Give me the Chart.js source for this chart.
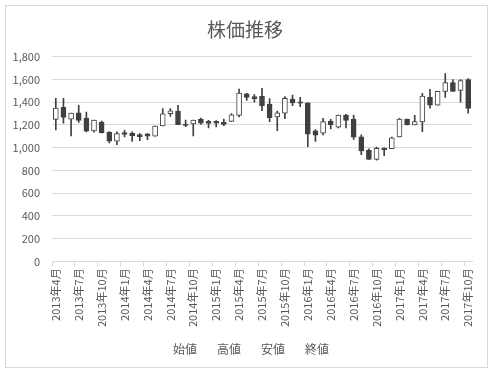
<!DOCTYPE html>
<html>
<head>
<meta charset="utf-8">
<script src="https://cdn.jsdelivr.net/npm/chart.js@4.4.1/dist/chart.umd.min.js"></script>
<style>
  body { margin: 0; background: #fff; }
  #box { position: absolute; left: 5px; top: 5px; width: 481px; height: 361px; border: 1px solid #d9d9d9; }
</style>
</head>
<body>
<div id="box"><canvas id="c" width="481" height="361"></canvas></div>
<script>
// monthly candles, 2013/4 .. 2017/10
var months = [
  '2013年4月','2013年5月','2013年6月','2013年7月','2013年8月','2013年9月','2013年10月','2013年11月','2013年12月',
  '2014年1月','2014年2月','2014年3月','2014年4月','2014年5月','2014年6月','2014年7月','2014年8月','2014年9月',
  '2014年10月','2014年11月','2014年12月','2015年1月','2015年2月','2015年3月','2015年4月','2015年5月','2015年6月',
  '2015年7月','2015年8月','2015年9月','2015年10月','2015年11月','2015年12月','2016年1月','2016年2月','2016年3月',
  '2016年4月','2016年5月','2016年6月','2016年7月','2016年8月','2016年9月','2016年10月','2016年11月','2016年12月',
  '2017年1月','2017年2月','2017年3月','2017年4月','2017年5月','2017年6月','2017年7月','2017年8月','2017年9月',
  '2017年10月'
];
var opens  = [1249,1356,1252,1307,1261,1148,1226,1136,1058,1133,1127,1116,1122,1101,1191,1299,1322,1209,
              1209,1252,1232,1232,1223,1232,1284,1475,1449,1455,1385,1270,1304,1429,1403,1394,1148,1127,
              1235,1180,1287,1252,1096,977,896,997,991,1096,1252,1200,1226,1443,1374,1496,1574,1504,1600];
var highs  = [1435,1435,1304,1374,1313,1243,1235,1142,1139,1154,1139,1125,1125,1191,1345,1345,1374,1243,
              1243,1261,1240,1238,1252,1301,1516,1478,1467,1522,1432,1322,1449,1464,1443,1394,1159,1258,
              1249,1287,1293,1287,1113,991,1006,1000,1093,1258,1252,1284,1478,1513,1496,1652,1600,1600,1609];
var lows   = [1156,1217,1104,1223,1139,1136,1130,1043,1026,1096,1055,1061,1070,1101,1191,1275,1203,1185,
              1104,1206,1174,1183,1194,1232,1270,1417,1400,1325,1229,1151,1255,1371,1362,1009,1055,1113,
              1165,1174,1174,1072,939,896,890,930,991,1096,1200,1200,1142,1348,1374,1443,1496,1400,1304];
var closes = [1348,1267,1304,1240,1145,1243,1130,1058,1125,1116,1107,1098,1101,1191,1299,1325,1203,1197,
              1243,1217,1214,1217,1206,1290,1481,1443,1432,1371,1264,1307,1435,1394,1391,1119,1110,1229,
              1200,1287,1240,1093,971,896,994,983,1087,1252,1200,1229,1455,1374,1496,1574,1496,1591,1345];
var seriesNames = ['始値', '高値', '安値', '終値'];
var yTicks = [0, 1800, 200];

var ink = '#404040';
var txt = '#595959';
var jp = '"Noto Sans CJK JP", "Noto Sans", sans-serif';

var bodies = opens.map(function (o, i) { return [o, closes[i]]; });
var wicks = lows.map(function (l, i) { return [l, highs[i]]; });
var bodyFill = opens.map(function (o, i) { return closes[i] >= o ? '#ffffff' : ink; });

// nudge title and legend sideways (Excel centres them on the plot, not the canvas)
var nudge = {
  id: 'nudge',
  afterLayout: function (chart) {
    chart.titleBlock.left += 6; chart.titleBlock.right += 6;
    chart.legend.left += 9; chart.legend.right += 9;
  }
};

new Chart(document.getElementById('c'), {
  type: 'bar',
  data: {
    labels: months,
    datasets: [
      { label: 'body', data: bodies, order: 0, grouped: false, barThickness: 5,
        backgroundColor: bodyFill, borderColor: ink, borderWidth: 1, borderSkipped: false },
      { label: 'wick', data: wicks, order: 1, grouped: false, barThickness: 1,
        backgroundColor: ink, borderWidth: 0 }
    ]
  },
  plugins: [nudge],
  options: {
    responsive: false,
    animation: false,
    layout: { padding: { left: 0, right: 15, top: 0, bottom: 2 } },
    plugins: {
      title: { display: true, text: '株価推移', color: txt,
        font: { family: jp, size: 19, weight: 'normal' }, padding: { top: 12, bottom: 16 } },
      legend: {
        position: 'bottom',
        labels: {
          color: txt, boxWidth: 0, padding: 14,
          font: { family: jp, size: 12 },
          generateLabels: function () {
            return seriesNames.map(function (n) {
              return { text: n, fillStyle: 'transparent', strokeStyle: 'transparent', lineWidth: 0, fontColor: txt };
            });
          }
        },
        onClick: null
      },
      tooltip: { enabled: false }
    },
    scales: {
      x: {
        offset: true,
        border: { color: '#d9d9d9' },
        grid: {
          offset: true, drawOnChartArea: false, drawTicks: true, tickLength: 5,
          color: function (c) { return c.index % 3 === 0 ? '#d9d9d9' : 'transparent'; }
        },
        ticks: {
          autoSkip: false, maxRotation: 90, minRotation: 90, color: txt, padding: 2,
          font: { family: jp, size: 11 },
          callback: function (v, i) { return i % 3 === 0 ? months[i] : ''; }
        }
      },
      y: {
        min: yTicks[0], max: yTicks[1],
        border: { display: false },
        grid: { color: '#d9d9d9', drawTicks: false },
        ticks: {
          stepSize: yTicks[2], color: txt, padding: 12,
          font: { family: jp, size: 11 },
          callback: function (v) { return v.toLocaleString('en-US'); }
        },
        afterFit: function (s) { s.width = 46; }
      }
    }
  }
});
</script>
</body>
</html>
